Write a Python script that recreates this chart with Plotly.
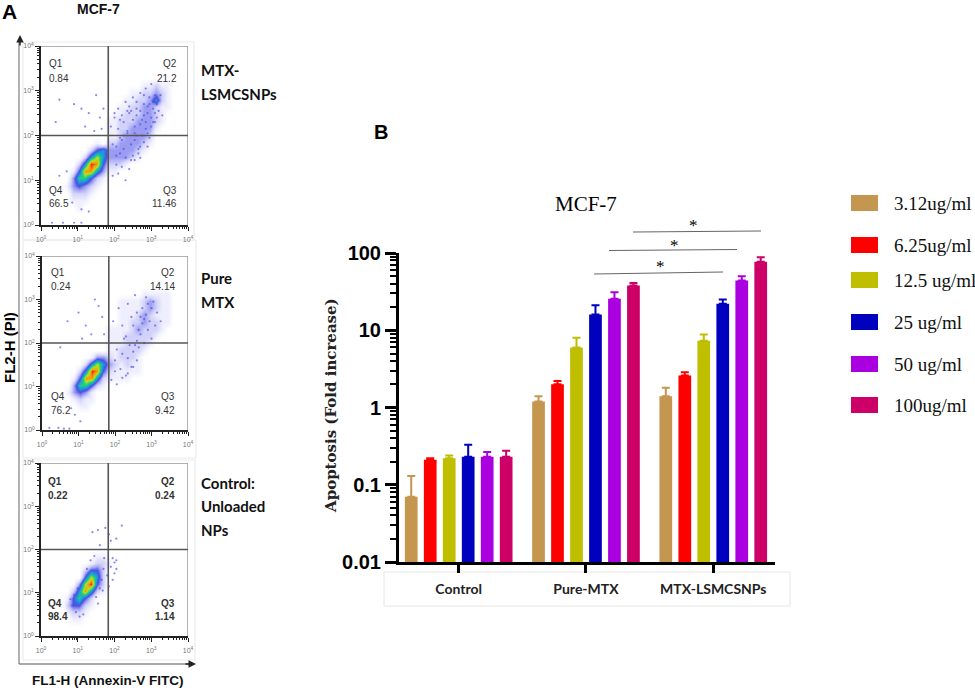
import plotly.graph_objects as go

W, H = 975, 691

# ---------- data: bar chart ----------
GROUPS = ["Control", "Pure-MTX", "MTX-LSMCSNPs"]
DOSES = ["3.12ug/ml", "6.25ug/ml", "12.5 ug/ml", "25 ug/ml", "50 ug/ml", "100ug/ml"]
COLORS = ["#C4964F", "#FF0000", "#BFBF00", "#0000BF", "#AA00E0", "#CC0066"]
V_312 = [0.07, 1.2, 1.4]
V_625 = [0.21, 2.0, 2.6]
V_125 = [0.22, 6.0, 7.3]
V_25 = [0.23, 16, 22]
V_50 = [0.23, 25.5, 44]
V_100 = [0.23, 38, 77]
E_312 = [0.06, 0.2, 0.4]
E_625 = [0.01, 0.2, 0.25]
E_125 = [0.02, 2.0, 1.5]
E_25 = [0.10, 5, 3]
E_50 = [0.035, 5.5, 6]
E_100 = [0.045, 3, 11]
VALUES = [V_312, V_625, V_125, V_25, V_50, V_100]
ERRORS = [E_312, E_625, E_125, E_25, E_50, E_100]

# ---------- data: flow cytometry density, read by eye ----------
# rows run from exponent 3.92 down to 0.08, columns from 0.08 to 3.92, 0.16 apart
GRID_X = [0.08 + 0.16 * i for i in range(25)]
GRID_Y = [3.92 - 0.16 * i for i in range(25)]
DENSITY_1 = """
00000 00000 00000 00000 00000
00000 00000 00000 00000 00000
00000 00000 00000 00000 00000
00000 00000 00000 00000 00000
00000 00000 00000 00000 00000
00000 00000 00000 00112 11000
00000 00000 00000 11223 21000
00000 00000 00001 12235 21000
00000 00000 00011 22332 11000
00000 00000 00112 22332 10000
00000 00000 01122 23332 10000
00000 00000 01122 33331 00000
00000 00000 01123 33320 00000
00000 00001 02233 33210 00000
00000 00024 53333 32100 00000
00000 00257 53333 21000 00000
00000 02598 42221 00000 00000
00000 14885 31100 00000 00000
00000 36642 10000 00000 00000
00001 34321 00000 00000 00000
00000 22210 00000 00000 00000
00000 11100 00000 00000 00000
00000 01000 00000 00000 00000
00000 00000 00000 00000 00000
00000 00000 00000 00000 00000
"""
DENSITY_2 = """
00000 00000 00000 00000 00000
00000 00000 00000 00000 00000
00000 00000 00000 00000 00000
00000 00000 00000 00000 00000
00000 00000 00000 00000 00000
00000 00000 00000 00111 11000
00000 00000 00011 11232 11000
00000 00000 00011 11232 11000
00000 00000 00011 12321 11000
00000 00000 00011 22322 11000
00000 00000 01111 23222 10000
00000 00000 01112 22221 00000
00000 00000 01112 22210 00000
00000 00000 01122 22100 00000
00000 00013 32122 21000 00000
00000 00257 53212 11000 00000
00000 02598 42111 11000 00000
00000 14885 21111 00000 00000
00000 36642 10000 00000 00000
00001 34310 00000 00000 00000
00000 12110 00000 00000 00000
00000 01100 00000 00000 00000
00000 00000 00000 00000 00000
00000 00000 00000 00000 00000
00000 00000 00000 00000 00000
"""
DENSITY_3 = """
00000 00000 00000 00000 00000
00000 00000 00000 00000 00000
00000 00000 00000 00000 00000
00000 00000 00000 00000 00000
00000 00000 00000 00000 00000
00000 00000 00000 00000 00000
00000 00000 00000 00000 00000
00000 00000 00000 00000 00000
00000 00000 00000 00000 00000
00000 00000 00000 00000 00000
00000 00000 00000 00000 00000
00000 00000 00000 00000 00000
00000 00000 00000 00000 00000
00000 00001 10000 00000 00000
00000 00012 21000 00000 00000
00000 00244 20000 00000 00000
00000 00475 20000 00000 00000
00000 03794 20000 00000 00000
00000 25852 10000 00000 00000
00001 46420 00000 00000 00000
00002 44210 00000 00000 00000
00001 22100 00000 00000 00000
00000 11000 00000 00000 00000
00000 00000 00000 00000 00000
00000 00000 00000 00000 00000
"""
# single events visible outside the dense core (x exponent, y exponent)
EVENTS_1_X = [0.5, 0.9, 1.1, 1.3, 1.5, 1.6, 1.2, 0.4, 1.65, 1.45, 1.7, 0.7, 0.5, 0.85, 1.1, 1.3, 0.3, 0.6, 0.9, 1.1,
              2.0, 2.1, 2.25, 2.3, 2.4, 2.5, 2.55, 2.6, 2.7, 2.75, 2.8, 2.85, 2.9, 2.95, 3.0, 3.05, 3.1, 3.15, 2.2, 2.35, 2.45,
              2.6, 2.7, 2.85, 2.95, 3.05, 2.15, 2.3, 2.5, 2.65, 2.8, 2.9, 2.05, 2.2, 2.4, 2.55, 2.7, 1.95, 2.1, 2.3,
              1.9, 1.95, 2.0, 2.05, 2.1, 2.15, 2.2, 2.25, 2.35, 2.4, 2.45, 2.5, 2.55, 2.6, 2.65, 2.7, 2.75, 2.8, 2.85, 2.9,
              2.95, 3.0, 3.05, 3.1, 3.15, 3.2, 2.6, 2.7, 2.8, 2.9, 3.0, 3.1, 2.45, 2.55, 2.35, 2.25, 2.15, 2.05, 3.25, 3.3]
EVENTS_1_Y = [2.8, 2.7, 2.6, 2.5, 2.9, 2.4, 2.2, 2.3, 2.15, 2.1, 2.6, 1.2, 1.1, 0.5, 0.35, 0.3, 0.05, 0.05, 0.05, 0.05,
              2.4, 2.6, 2.3, 2.75, 2.5, 2.85, 2.2, 2.6, 2.95, 2.35, 2.7, 3.05, 2.5, 2.85, 3.15, 2.6, 2.9, 2.4, 1.9, 2.1, 1.8,
              2.0, 1.75, 2.15, 1.95, 2.3, 1.6, 1.5, 1.55, 1.7, 1.85, 2.05, 1.35, 1.3, 1.25, 1.45, 1.5, 1.1, 1.15, 1.0,
              2.2, 1.8, 2.5, 1.55, 2.15, 1.95, 2.45, 1.7, 2.05, 2.65, 1.45, 2.35, 1.9, 2.45, 1.6, 2.55, 2.0, 2.9, 2.3, 1.75,
              2.7, 2.2, 2.75, 2.5, 2.7, 2.55, 2.75, 2.25, 2.45, 2.65, 2.4, 2.3, 2.55, 2.05, 2.55, 2.0, 2.35, 1.75, 2.9, 2.45]
EVENTS_2_X = [0.7, 1.0, 1.2, 1.45, 1.55, 1.35, 1.65, 1.1, 1.7, 0.5, 0.8, 0.9, 1.05, 0.2, 0.45, 0.6, 0.75,
              1.95, 2.1, 2.2, 2.35, 2.45, 2.55, 2.65, 2.75, 2.85, 2.95, 3.05, 3.15, 3.25, 2.3, 2.4, 2.5, 2.6, 2.7, 2.8, 2.9, 3.0,
              2.05, 2.2, 2.35, 2.5, 2.65, 2.8, 2.0, 2.15, 2.3, 2.45, 2.6, 1.9, 2.05, 2.2, 2.35, 2.5,
              2.0, 2.25, 2.55, 2.75, 2.85, 3.0, 3.1, 2.6, 2.7, 2.9]
EVENTS_2_Y = [2.5, 2.7, 2.4, 3.0, 2.85, 2.2, 2.6, 2.1, 2.2, 1.9, 0.5, 0.35, 0.2, 0.05, 0.05, 0.03, 0.03,
              2.5, 2.8, 2.4, 2.9, 2.6, 3.1, 2.3, 2.8, 3.05, 2.5, 2.95, 2.7, 2.5, 2.15, 1.95, 2.4, 2.7, 2.2, 2.55, 2.3, 2.1,
              1.85, 1.75, 1.65, 1.8, 1.9, 2.0, 1.35, 1.4, 1.25, 1.45, 1.6, 1.15, 1.05, 1.2, 1.3, 1.45,
              1.6, 2.1, 1.95, 2.45, 2.65, 2.8, 2.4, 2.05, 2.6, 2.9]
EVENTS_3_X = [1.4, 1.55, 1.75, 1.85, 1.9, 2.05, 2.2, 1.6, 1.95, 2.0, 2.05, 1.9, 2.0, 1.95, 2.05, 1.85, 1.8,
              0.85, 0.9, 0.95, 1.0, 1.05, 1.15, 1.25, 1.35, 1.5, 1.6, 1.65, 1.7, 1.72, 1.68, 1.55, 1.45, 0.8]
EVENTS_3_Y = [2.4, 2.45, 2.5, 2.35, 2.2, 2.25, 2.55, 2.1, 1.8, 1.7, 1.55, 1.6, 1.45, 1.3, 1.75, 1.15, 1.4,
              0.7, 0.95, 0.55, 1.1, 0.45, 0.5, 1.55, 1.75, 0.9, 1.1, 1.3, 1.55, 1.8, 1.05, 0.75, 1.85, 0.85]

DENSITY_SCALE = [
    [0.0, "#ffffff"], [0.11, "#efeefd"], [0.22, "#d2d2fa"], [0.33, "#9c9ef2"],
    [0.44, "#4a50e0"], [0.56, "#1a9be0"], [0.67, "#1fd07a"], [0.78, "#b8e020"],
    [0.89, "#f59a10"], [1.0, "#e83010"],
]
DECADES = [0, 1, 2, 3, 4]
DECADE_LABELS = ["10<sup>0</sup>", "10<sup>1</sup>", "10<sup>2</sup>", "10<sup>3</sup>", "10<sup>4</sup>"]
QUAD_1 = ["0.84", "21.2", "66.5", "11.46"]
QUAD_2 = ["0.24", "14.14", "76.2", "9.42"]
QUAD_3 = ["0.22", "0.24", "98.4", "1.14"]
GATE_X = 1.83
GATE_Y = 2.0


def px(x):
    return x / W


def py(y):
    return 1 - y / H


annotations = []
shapes = []


def note(text, x, y, size, color="#000", family="Lato", bold=False, anchor="center", angle=0):
    annotations.append(dict(
        text=f"<b>{text}</b>" if bold else text, x=px(x), y=py(y), xref="paper", yref="paper",
        showarrow=False, xanchor=anchor, yanchor="middle", textangle=angle,
        font=dict(size=size, color=color, family=family),
    ))


def line(x0, y0, x1, y1, color, width):
    shapes.append(dict(type="line", xref="paper", yref="paper", x0=px(x0), y0=py(y0), x1=px(x1), y1=py(y1),
                       line=dict(color=color, width=width)))


fig = go.Figure()

# ---------- bar chart ----------
for dose, color, vals, errs in zip(DOSES, COLORS, VALUES, ERRORS):
    fig.add_trace(go.Bar(
        x=GROUPS, y=vals, name=dose, marker=dict(color=color, line=dict(width=0)),
        error_y=dict(type="data", symmetric=False, array=errs, arrayminus=[0, 0, 0],
                     color=color, thickness=2, width=4),
        xaxis="x", yaxis="y",
    ))

minor_log = dict(ticks="outside", ticklen=6, tickwidth=2, tickcolor="#000", dtick="D1", showgrid=False)
layout_axes = dict(
    xaxis=dict(domain=[px(399), px(775)], anchor="y", type="category", categoryarray=GROUPS,
               range=[-0.469, 2.485], showline=True, linecolor="#000", linewidth=3, ticks="outside",
               ticklen=8, tickwidth=2.5, tickcolor="#000", showgrid=False, zeroline=False,
               ticklabelstandoff=4, tickfont=dict(size=14, family="Lato", color="#222", weight="bold")),
    yaxis=dict(domain=[py(562), py(253)], anchor="x", type="log", range=[-2, 2], showline=True,
               linecolor="#000", linewidth=3, ticks="outside", ticklen=11, tickwidth=3, tickcolor="#000",
               tickmode="array", tickvals=[0.01, 0.1, 1, 10, 100], ticktext=["0.01", "0.1", "1", "10", "100"],
               tickfont=dict(size=20, family="Liberation Sans", color="#000", weight="bold"),
               showgrid=False, zeroline=False, minor=minor_log),
)

shapes.append(dict(type="rect", xref="paper", yref="paper", x0=px(384), x1=px(790), y0=py(572), y1=py(606),
                   line=dict(color="#e6e6e6", width=1), layer="below"))

# significance lines and stars
for (x0, y0, x1, y1, sx, sy) in [(594, 274, 723, 272, 660, 266), (609, 250.5, 737, 249.5, 674, 245),
                                 (633, 232, 761, 231, 693, 225)]:
    line(x0, y0, x1, y1, "#666", 1.2)
    note("*", sx, sy, 17, family="Liberation Serif")

note("MCF-7", 586, 204, 21, family="Liberation Serif")
note("Apoptosis (Fold increase)", 331, 406, 15, family="DejaVu Serif", bold=True, angle=-90, color="#222")
note("B", 381, 132, 20, family="Liberation Sans", bold=True)

# custom legend
for label, color, yc in zip(DOSES, COLORS, [203, 245, 280, 322, 364, 405]):
    shapes.append(dict(type="rect", xref="paper", yref="paper", x0=px(851), x1=px(878), y0=py(yc - 8), y1=py(yc + 8),
                       fillcolor=color, line=dict(width=0)))
    note(label, 892, yc, 19, family="Liberation Serif", anchor="left", color="#111")

# ---------- flow cytometry panels ----------
panels = [
    dict(box=(41, 188, 46, 225), frame=(23, 194, 42, 240), grid=DENSITY_1, ex=EVENTS_1_X, ey=EVENTS_1_Y, quad=QUAD_1,
         ql=47, qr=179, rows=(63, 78, 190, 204), side=[("MTX-", 70), ("LSMCSNPs", 94)], qw=False),
    dict(box=(42, 188, 256, 430), frame=(23, 196, 240, 458), grid=DENSITY_2, ex=EVENTS_2_X, ey=EVENTS_2_Y, quad=QUAD_2,
         ql=49, qr=177, rows=(272, 286, 396, 410), side=[("Pure", 278), ("MTX", 302)], qw=False),
    dict(box=(41, 188, 463, 636), frame=(23, 195, 460, 660), grid=DENSITY_3, ex=EVENTS_3_X, ey=EVENTS_3_Y, quad=QUAD_3,
         ql=46, qr=177, rows=(482, 495, 603, 616), side=[("Control:", 483), ("Unloaded", 506), ("NPs", 530)], qw=True),
]
minor_pos = [d + m for d in range(4) for m in (0.301, 0.477, 0.602, 0.699, 0.778, 0.845, 0.903, 0.954)]

for i, p in enumerate(panels):
    n = i + 2
    x0, x1, y0, y1 = p["box"]
    fx0, fx1, fy0, fy1 = p["frame"]
    shapes.append(dict(type="rect", xref="paper", yref="paper", x0=px(fx0), x1=px(fx1), y0=py(fy1), y1=py(fy0),
                       line=dict(color="#ececec", width=1.2), layer="below"))
    z = [[int(c) for c in row.replace(" ", "")] for row in p["grid"].strip().splitlines()]
    fig.add_trace(go.Heatmap(x=GRID_X, y=GRID_Y, z=z, zmin=0, zmax=9, colorscale=DENSITY_SCALE,
                             zsmooth="best", showscale=False, hoverinfo="skip",
                             xaxis=f"x{n}", yaxis=f"y{n}"))
    fig.add_trace(go.Scatter(x=p["ex"], y=p["ey"], mode="markers", hoverinfo="skip",
                             marker=dict(size=2.2, color="#4a4ce2", opacity=0.65, line=dict(width=0)),
                             xaxis=f"x{n}", yaxis=f"y{n}"))
    common = dict(range=[0, 4], showline=True, linecolor="#222", linewidth=1.5, ticks="outside", ticklen=4,
                  tickwidth=1, tickcolor="#222", tickmode="array", tickvals=DECADES, ticktext=DECADE_LABELS,
                  tickfont=dict(size=7, color="#777", family="Liberation Sans"), showgrid=False, zeroline=False,
                  minor=dict(ticks="outside", ticklen=2, tickwidth=0.8, tickcolor="#222", tickvals=minor_pos, showgrid=False))
    layout_axes[f"xaxis{n}"] = dict(domain=[px(x0), px(x1)], anchor=f"y{n}", ticklabelstandoff=3, **common)
    layout_axes[f"yaxis{n}"] = dict(domain=[py(y1), py(y0)], anchor=f"x{n}", **common)
    # frame and quadrant gates
    for sx0, sx1, sy0, sy1 in [(0, 4, 4, 4), (4, 4, 0, 4)]:
        shapes.append(dict(type="line", xref=f"x{n}", yref=f"y{n}", x0=sx0, x1=sx1, y0=sy0, y1=sy1,
                           line=dict(color="#999", width=1.5)))
    shapes.append(dict(type="line", xref=f"x{n}", yref=f"y{n}", x0=GATE_X, x1=GATE_X, y0=0, y1=4,
                       line=dict(color="#555", width=1.6)))
    shapes.append(dict(type="line", xref=f"x{n}", yref=f"y{n}", x0=0, x1=4, y0=GATE_Y, y1=GATE_Y,
                       line=dict(color="#555", width=1.6)))
    q1y, q1v, q4y, q4v = p["rows"]
    col = "#333"
    for name, val, x, y, vy, anch in [("Q1", p["quad"][0], p["ql"], q1y, q1v, "left"),
                                      ("Q2", p["quad"][1], p["qr"], q1y, q1v, "right"),
                                      ("Q4", p["quad"][2], p["ql"], q4y, q4v, "left"),
                                      ("Q3", p["quad"][3], p["qr"], q4y, q4v, "right")]:
        note(name, x, y, 10, color=col, family="Liberation Sans", anchor=anch, bold=p["qw"])
        note(val, x, vy, 10, color=col, family="Liberation Sans", anchor=anch, bold=p["qw"])
    for text, y in p["side"]:
        note(text, 199, y, 15, family="Lato", bold=True, anchor="left", color="#111")

# big axes with arrowheads
line(19, 40, 19, 664, "#999", 1.5)
line(19, 664, 192, 664, "#555", 1.2)
for x, y, ax, ay in [(20, 35, 0, 12), (196, 664, -12, 0)]:
    annotations.append(dict(x=px(x), y=py(y), xref="paper", yref="paper", ax=ax, ay=ay, axref="pixel", ayref="pixel",
                            text="", showarrow=True, arrowhead=2, arrowsize=1, arrowwidth=1.5, arrowcolor="#222"))

note("A", 9, 12, 21, family="Liberation Sans", bold=True)
note("MCF-7", 98, 9, 14, family="Liberation Sans", bold=True, color="#111")
note("FL2-H (PI)", 9, 348, 15, family="Liberation Sans", bold=True, angle=-90)
note("FL1-H (Annexin-V FITC)", 108, 680, 13.5, family="Liberation Sans", bold=True, color="#111")

fig.update_layout(
    width=W, height=H, autosize=False, margin=dict(l=0, r=0, t=0, b=0, autoexpand=False),
    paper_bgcolor="#fff", plot_bgcolor="rgba(0,0,0,0)", barmode="group", bargap=0.105, bargroupgap=0.33,
    showlegend=False, annotations=annotations, shapes=shapes, **layout_axes,
)
fig.write_html("out.html", config=dict(displayModeBar=False),
               post_script="document.body.style.margin='0';document.body.style.overflow='hidden';")
